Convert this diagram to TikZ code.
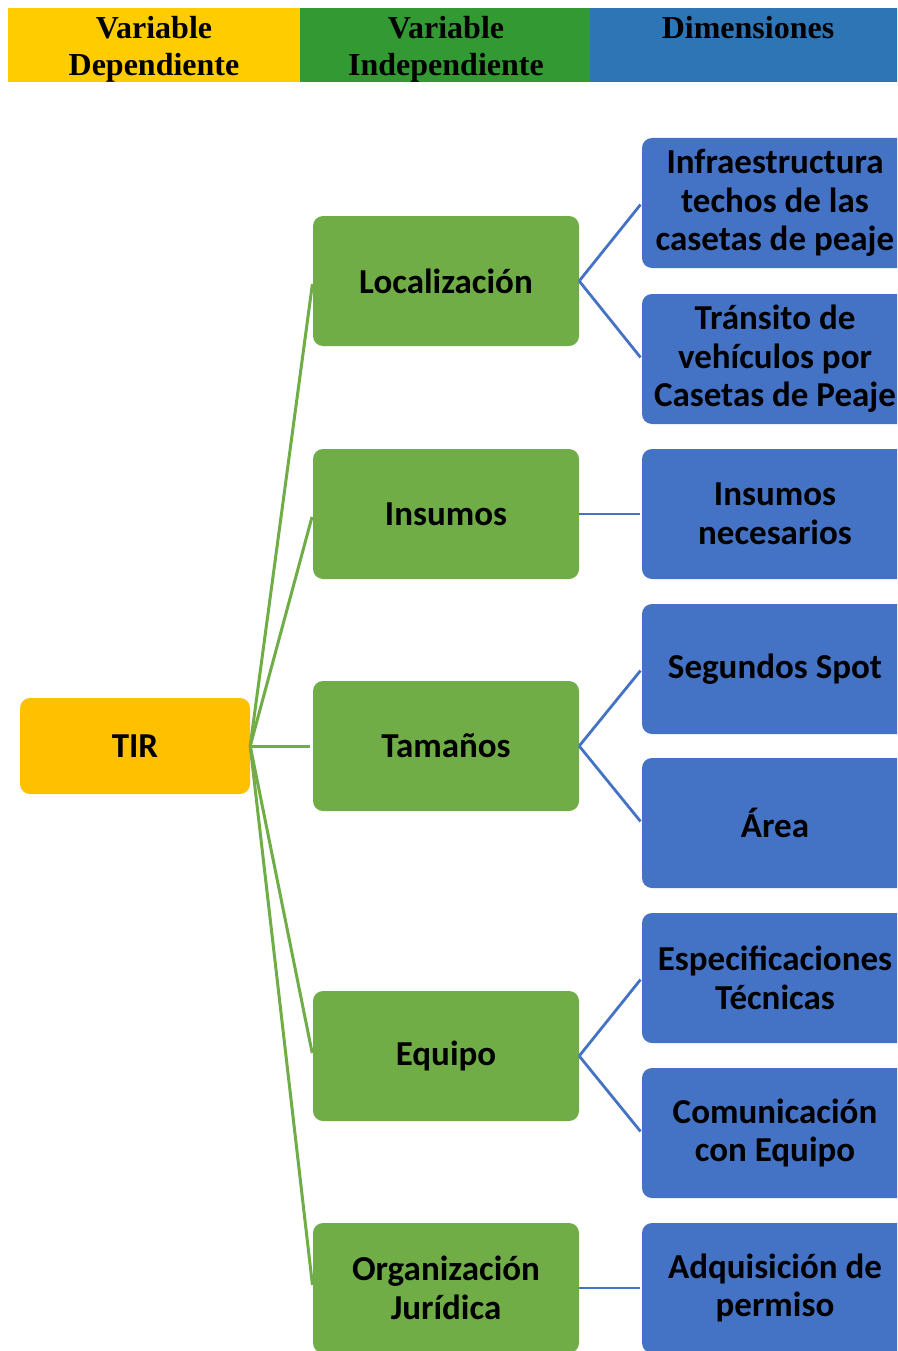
\documentclass[tikz,border=0pt]{standalone}
\usepackage{fontspec}
\setmainfont{Carlito}
\newfontfamily\hdrfont{Liberation Serif}
\definecolor{hdryellow}{HTML}{FFCC00}
\definecolor{hdrgreen}{HTML}{339933}
\definecolor{hdrblue}{HTML}{2E75B6}
\definecolor{tirfill}{HTML}{FFC000}
\definecolor{varfill}{HTML}{70AD47}
\definecolor{dimfill}{HTML}{4472C4}
\begin{document}
\begin{tikzpicture}[x=1pt,y=-1pt,
  box/.style={rounded corners=10pt, minimum width=266pt, minimum height=130pt,
    align=center, font=\bfseries\fontsize{35}{38.5}\selectfont, inner sep=0pt},
  depbox/.style={box, fill=tirfill, minimum width=230pt, minimum height=96pt},
  varbox/.style={box, fill=varfill},
  dimbox/.style={box, fill=dimfill},
  varlink/.style={draw=varfill, line width=3pt},
  dimlink/.style={draw=dimfill, line width=2.8pt},
  hdrcell/.style={anchor=north west, minimum height=74pt, inner sep=0pt, outer sep=0pt},
  hdrtext/.style={anchor=north, align=center, inner sep=0pt,
    font=\hdrfont\bfseries\fontsize{32}{37}\selectfont}
]
\useasboundingbox (0,0) rectangle (897,1351);
\clip (0,0) rectangle (897,1351);
\fill[white] (0,0) rectangle (897,1351);

% header strip
\node[hdrcell, fill=hdryellow, minimum width=292pt] (hdep) at (8,8) {};
\node[hdrcell, fill=hdrgreen, minimum width=290pt] (hind) at (300,8) {};
\node[hdrcell, fill=hdrblue, minimum width=320pt] (hdim) at (590,8) {};
\node[hdrtext] (hdept) at (154,16) {Variable\\Dependiente};
\node[hdrtext] (hindt) at (446,16) {Variable\\Independiente};
\node[hdrtext] (hdimt) at (748,16) {Dimensiones};

% dependent variable
\node[depbox] (tir) at (135,746) {TIR};

% independent variables
\node[varbox] (loc) at (446,281) {Localización};
\node[varbox] (ins) at (446,514) {Insumos};
\node[varbox] (tam) at (446,746) {Tamaños};
\node[varbox] (equ) at (446,1056) {Equipo};
\node[varbox] (org) at (446,1288) {Organización\\Jurídica};

% dimensions
\node[dimbox] (infra) at (775,203) {Infraestructura\\techos de las\\casetas de peaje};
\node[dimbox] (trans) at (775,359) {Tránsito de\\vehículos por\\Casetas de Peaje};
\node[dimbox] (insn) at (775,514) {Insumos\\necesarios};
\node[dimbox] (seg) at (775,669) {Segundos Spot};
\node[dimbox] (area) at (775,823) {Área};
\node[dimbox] (espec) at (775,978) {Especificaciones\\Técnicas};
\node[dimbox] (comu) at (775,1133) {Comunicación\\con Equipo};
\node[dimbox] (adq) at (775,1288) {Adquisición de\\permiso};

% links from the dependent variable
\foreach \v in {loc,ins,tam,equ,org}
  \draw[varlink, shorten >=3pt] (tir.east) -- (\v.west);

% links to the dimensions
\draw[dimlink, shorten >=2pt] (loc.east) -- (infra.west);
\draw[dimlink, shorten >=2pt] (loc.east) -- (trans.west);
\draw[dimlink, shorten >=2pt] (ins.east) -- (insn.west);
\draw[dimlink, shorten >=2pt] (tam.east) -- (seg.west);
\draw[dimlink, shorten >=2pt] (tam.east) -- (area.west);
\draw[dimlink, shorten >=2pt] (equ.east) -- (espec.west);
\draw[dimlink, shorten >=2pt] (equ.east) -- (comu.west);
\draw[dimlink, shorten >=2pt] (org.east) -- (adq.west);
\end{tikzpicture}
\end{document}
